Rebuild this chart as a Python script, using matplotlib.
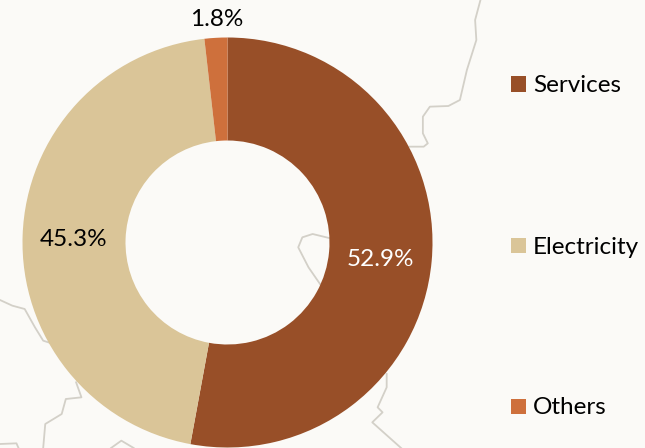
import matplotlib
matplotlib.use("Agg")
import matplotlib.pyplot as plt
from matplotlib.patches import Rectangle

categories = ["Services", "Electricity", "Others"]
values = [52.9, 45.3, 1.8]
labels = ["52.9%", "45.3%", "1.8%"]
colors = ["#984F28", "#DAC598", "#CE703C"]
label_colors = ["white", "black", "black"]

W, H = 645, 448
plt.rcParams['font.family'] = ['Lato', 'DejaVu Sans']
fig = plt.figure(figsize=(W/100, H/100), dpi=100, facecolor="#FBFAF7")
ax = fig.add_axes([0, 0, 1, 1])

bg = "#D3D0C8"
zoom_x = 1568 / 645
zoom_y = 3
paths = [
    ([1168,1155,1158,1135,1118,1090,1045,1028,1028,1040,1030,995],
     [0,60,120,210,300,318,320,350,400,430,440,440], 0),
    ([800,760,735,725,750,778], [42,30,40,70,130,180], 224),
    ([0,30,60,85,105,125], [228,245,255,310,350,358], 224),
    ([185,198,160,150,110,105], [475,520,525,570,600,672], 224),
    ([940,940,918,930,905,975], [450,490,550,565,595,672], 224),
    ([270,295,325], [672,650,672], 224),
    ([0,40,45], [660,658,672], 224),
]
for xs, ys, off in paths:
    ax.plot([x/zoom_x for x in xs], [y/zoom_y + off for y in ys], color=bg, lw=1.3, zorder=1)

ax.pie(values, colors=colors, startangle=-90, counterclock=True,
       center=(227.5, 242.5), radius=205, frame=True,
       wedgeprops=dict(width=103, edgecolor="none"))
for w in ax.patches:
    w.set_zorder(2)

ax.set_aspect("equal")
ax.set_xlim(0, W)
ax.set_ylim(H, 0)
ax.axis("off")

FS = 17.5
pos = [(380.5, 259), (73.5, 240), (217, 20)]
for t, c, (x, y) in zip(labels, label_colors, pos):
    ax.text(x, y, t, color=c, fontsize=FS, ha="center", va="center", zorder=4)

leg_y = [84.5, 246, 407]
text_y = [85.5, 247, 408]
for cat, col, y, ty in zip(categories, colors, leg_y, text_y):
    ax.add_patch(Rectangle((511, y-8), 15, 15.5, color=col, lw=0, zorder=4))
    ax.text(533, ty, cat, color="black", fontsize=FS, ha="left", va="center", zorder=4)

fig.savefig("out.png", dpi=100, facecolor=fig.get_facecolor())
